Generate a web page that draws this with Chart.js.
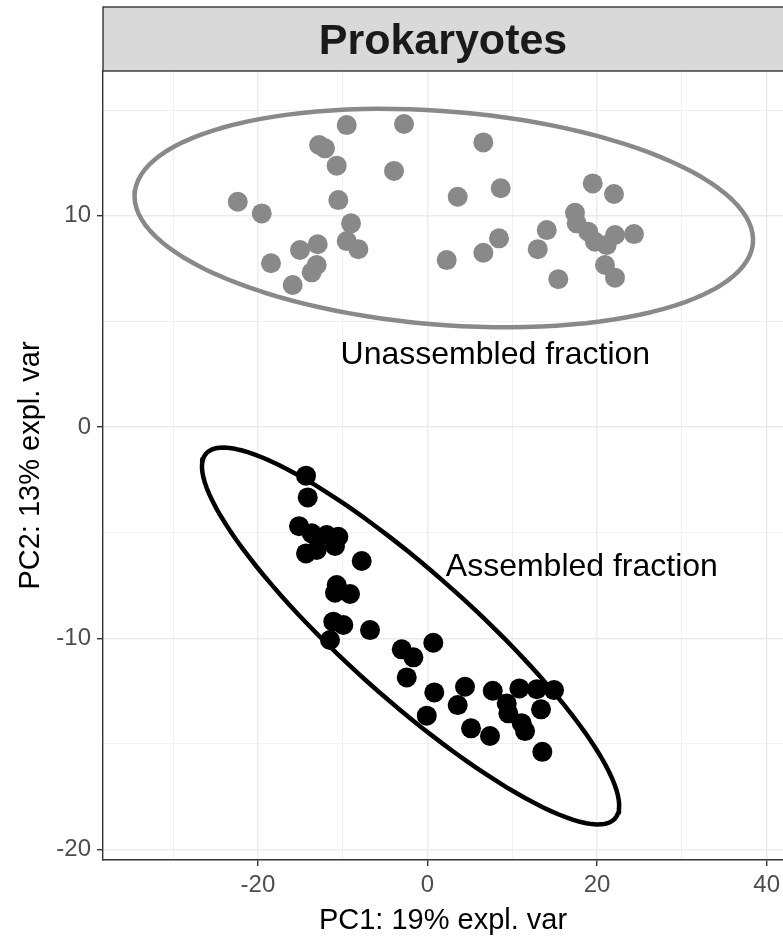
<!DOCTYPE html>
<html>
<head>
<meta charset="utf-8">
<script src="https://cdn.jsdelivr.net/npm/chart.js@4.4.1/dist/chart.umd.min.js"></script>
<style>
html,body{margin:0;padding:0;background:#fff;}
#wrap{width:783px;height:939px;}
</style>
</head>
<body>
<div id="wrap"><canvas id="pca" width="783" height="939"></canvas></div>
<script>
// PCA scores (PC1, PC2)
const unassembledX = [-22.38, -19.55, -18.46, -15.90, -15.04, -12.95, -13.66, -13.07, -12.79, -12.09,
  -10.71, -10.52, -9.53, -9.02, -9.53, -8.16, -3.95, -2.77, 2.26, 3.56,
  6.58, 6.58, 8.43, 8.63, 13.00, 14.06, 15.42, 17.39, 17.59, 18.96,
  19.48, 19.75, 20.93, 21.13, 21.99, 22.11, 22.11, 24.35];
const unassembledY = [10.66, 10.11, 7.75, 6.72, 8.38, 8.65, 7.32, 7.67, 13.35, 13.19,
  12.37, 10.74, 14.29, 9.64, 8.80, 8.42, 12.12, 14.34, 7.90, 10.90,
  13.47, 8.25, 8.93, 11.30, 8.42, 9.32, 7.00, 10.14, 9.64, 9.24,
  11.53, 8.77, 7.67, 8.61, 11.03, 9.09, 7.07, 9.13];

const assembledX = [-14.33, -14.13, -15.15, -13.66, -11.89, -10.52, -10.91, -14.33, -13.07, -7.76,
  -10.71, -9.14, -10.91, -11.11, -9.93, -11.50, -6.78, -3.04, -1.67, 0.68,
  -2.45, 0.80, -0.09, 4.42, 3.56, 5.13, 7.37, 7.69, 10.83, 12.88,
  14.92, 9.34, 9.53, 11.11, 11.50, 13.38, 13.54];
const assembledY = [-2.30, -3.33, -4.69, -5.03, -5.11, -5.19, -5.63, -5.98, -5.82, -6.34,
  -7.48, -7.90, -7.84, -9.21, -9.37, -10.08, -9.61, -10.52, -10.90, -10.21,
  -11.85, -12.56, -13.66, -12.29, -13.16, -14.26, -14.62, -12.48, -12.37, -12.41,
  -12.45, -13.08, -13.55, -14.02, -14.39, -13.36, -15.37];

// confidence ellipses: centre, spread along each PC, correlation
const ellipseUnassembled = { cx: 1.92, cy: 9.89, sx: 36.47, sy: 5.17, rho: -0.20 };
const ellipseAssembled = { cx: -2.0, cy: -9.89, sx: 24.6, sy: 8.92, rho: -0.899 };

const xRange = [-38.27, 41.92];
const yRange = [-20.49, 16.85];

const groupLabels = [
  { text: "Unassembled fraction", x: 8.0, y: 3.4 },
  { text: "Assembled fraction", x: 18.2, y: -6.62 },
];

const FONT = "'Liberation Sans', Arial, Helvetica, sans-serif";
const GREY = "#898989";

const toPoints = (xs, ys) => xs.map((v, i) => ({ x: v, y: ys[i] }));

// outline of the ellipse, run a little past the start so the seam is hidden
function ellipsePath(e, n = 120){
  const pts = [];
  const k = Math.sqrt(1 - e.rho * e.rho);
  for (let i = 0; i <= n + 3; i++){
    const t = (i / n) * Math.PI * 2 + 1.0;
    pts.push({ x: e.cx + e.sx * Math.cos(t), y: e.cy + e.sy * (e.rho * Math.cos(t) + k * Math.sin(t)) });
  }
  return pts;
}

const isMajor = (v, step) => Math.abs(v % step) < 1e-6;

// strip on top + group labels
const panelDecor = {
  id: "panelDecor",
  afterDraw(chart){
    const { ctx, chartArea: a, scales: { x, y } } = chart;
    ctx.save();
    ctx.fillStyle = "#D9D9D9";
    ctx.fillRect(a.left, 7, a.right - a.left + 4, a.top - 7);
    ctx.strokeStyle = "#333333";
    ctx.lineWidth = 1.4;
    ctx.strokeRect(a.left, 7, a.right - a.left + 6, a.top - 7);
    ctx.fillStyle = "#1A1A1A";
    ctx.font = `bold 43px ${FONT}`;
    ctx.textAlign = "center";
    ctx.textBaseline = "alphabetic";
    ctx.fillText("Prokaryotes", (a.left + a.right) / 2, 54);

    ctx.fillStyle = "#000000";
    ctx.font = `32px ${FONT}`;
    ctx.textBaseline = "middle";
    groupLabels.forEach(l => ctx.fillText(l.text, x.getPixelForValue(l.x), y.getPixelForValue(l.y)));
    ctx.restore();
  }
};

const ellipseStyle = { showLine: true, borderWidth: 4.5, borderCapStyle: "round", borderJoinStyle: "round", pointRadius: 0, fill: false, order: 1 };

new Chart(document.getElementById("pca"), {
  type: "scatter",
  data: {
    datasets: [
      { ...ellipseStyle, data: ellipsePath(ellipseUnassembled), borderColor: GREY },
      { ...ellipseStyle, data: ellipsePath(ellipseAssembled), borderColor: "#000000" },
      { data: toPoints(unassembledX, unassembledY), backgroundColor: GREY, borderWidth: 0, pointRadius: 10, order: 2 },
      { data: toPoints(assembledX, assembledY), backgroundColor: "#000000", borderWidth: 0, pointRadius: 10, order: 2 },
    ]
  },
  options: {
    responsive: false,
    animation: false,
    devicePixelRatio: 1,
    layout: { autoPadding: false, padding: { top: 71, right: 0, bottom: 0, left: 0 } },
    plugins: { legend: { display: false }, tooltip: { enabled: false } },
    scales: {
      x: {
        type: "linear", min: xRange[0], max: xRange[1],
        afterFit: s => { s.height = 79; s.paddingLeft = 0; s.paddingRight = 0; },
        border: { color: "#333333", width: 1.4 },
        grid: {
          color: "#EBEBEB",
          lineWidth: c => (c.tick && isMajor(c.tick.value, 20)) ? 1.4 : 0.7,
          tickColor: c => (c.tick && isMajor(c.tick.value, 20)) ? "#333333" : "rgba(0,0,0,0)",
          tickLength: 6, tickWidth: 1.4
        },
        ticks: {
          stepSize: 10, includeBounds: false, autoSkip: false, maxRotation: 0, padding: 5,
          color: "#4D4D4D", font: { family: FONT, size: 24 },
          callback: v => isMajor(v, 20) ? String(v) : ""
        },
        title: { display: true, text: "PC1: 19% expl. var", color: "#000000", font: { family: FONT, size: 29 }, padding: { top: 0, bottom: 1 } }
      },
      y: {
        type: "linear", min: yRange[0], max: yRange[1],
        afterFit: s => { s.width = 103; s.paddingTop = 0; s.paddingBottom = 0; },
        border: { color: "#333333", width: 1.4 },
        grid: {
          color: "#EBEBEB",
          lineWidth: c => (c.tick && isMajor(c.tick.value, 10)) ? 1.4 : 0.7,
          tickColor: c => (c.tick && isMajor(c.tick.value, 10)) ? "#333333" : "rgba(0,0,0,0)",
          tickLength: 6, tickWidth: 1.4
        },
        ticks: {
          stepSize: 5, includeBounds: false, autoSkip: false, padding: 6,
          color: "#4D4D4D", font: { family: FONT, size: 24 },
          callback: v => isMajor(v, 10) ? String(v) : ""
        },
        title: { display: true, text: "PC2: 13% expl. var", color: "#000000", font: { family: FONT, size: 29 }, padding: { top: 14, bottom: 0 } }
      }
    }
  },
  plugins: [panelDecor]
});
</script>
</body>
</html>
